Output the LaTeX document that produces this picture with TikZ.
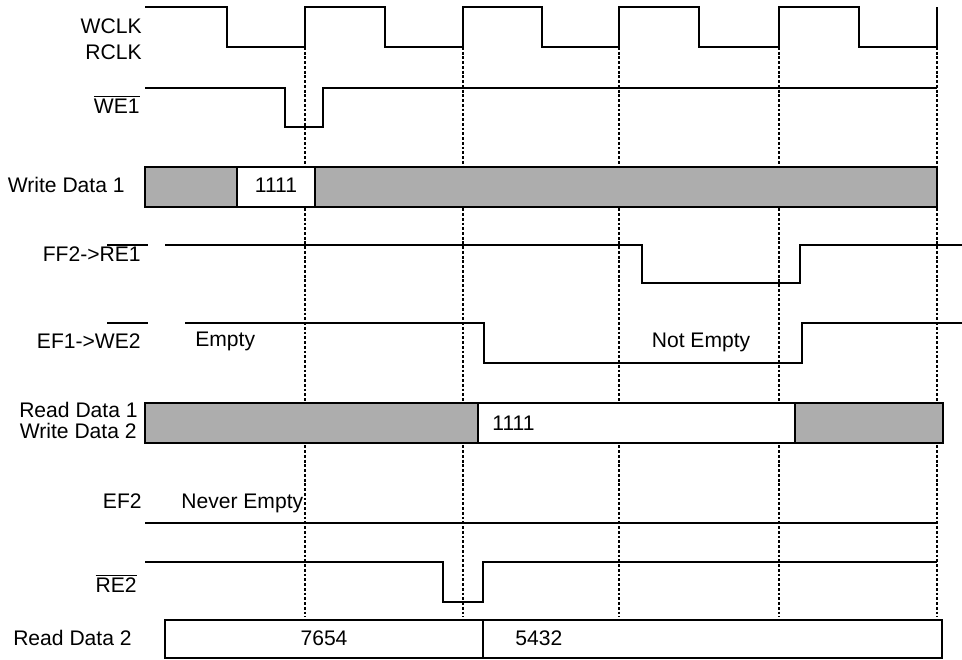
\documentclass[tikz,border=0pt]{standalone}
\usepackage{fontspec}
\setmainfont{Liberation Sans}
\usepackage{tikz}
\usetikzlibrary{positioning,calc}

\newcommand{\ovl}[1]{$\overline{\mbox{#1}}$}

\begin{document}
\begin{tikzpicture}[x=0.02cm, y=-0.02cm,
  wave/.style={line width=1.3pt},
  tick/.style={line width=0.8pt, dash pattern=on 1.6pt off 1.1pt},
  bus/.style={draw, line width=1.3pt, fill=white},
  shade/.style={draw, line width=1.3pt, fill=black!32},
  lbl/.style={font=\fontsize{12}{14}\selectfont, inner sep=0pt, text height=9pt, text depth=2.5pt},
  tight/.style={lbl, text height=8.6pt, text depth=0pt}]
  \useasboundingbox (0,0) rectangle (962,659);

  \foreach \x in {305,463,619,779,937}
    \draw[tick] (\x,47) -- (\x,617);

  \draw[wave] (145,7) \foreach \f/\r in {227/305,385/463,542/619,699/779,859/937}
    { -- (\f,7) -- (\f,47) -- (\r,47) -- (\r,7) };
  \node[lbl, anchor=east] (wclk) at (142,28) {WCLK};
  \node[lbl, anchor=east] (rclk) at (142,54) {RCLK};

  \draw[wave] (145,88) -- (285,88) -- (285,127) -- (323,127) -- (323,88) -- (937,88);
  \node[lbl, anchor=east] (we1) at (140,108) {\ovl{WE1}};

  \draw[shade] (145,167) rectangle (937,207);
  \draw[bus] (237,167) rectangle (315,207);
  \node[lbl] (wd1val) at (276,187) {1111};
  \node[lbl, anchor=east] (wd1) at (125,187) {Write Data 1};

  \draw[wave] (165,245) -- (642,245) -- (642,283) -- (800,283) -- (800,245) -- (962,245);
  \node[lbl, anchor=east] (ff2) at (141,256) {FF2->RE1};
  \draw[wave] (107,245) -- (148,245);

  \draw[wave] (185,323) -- (484,323) -- (484,363) -- (802,363) -- (802,323) -- (962,323);
  \node[lbl, anchor=east] (ef1) at (141,343) {EF1->WE2};
  \draw[wave] (107,323) -- (148,323);
  \node[lbl, anchor=west] (empty) at (195,341) {Empty};
  \node[lbl] (notempty) at (701,342) {Not Empty};

  \draw[shade] (145,403) rectangle (943,443);
  \draw[bus] (478,403) rectangle (795,443);
  \node[lbl, anchor=west] (rd1val) at (492,425) {1111};
  \node[tight, anchor=east] (rd1) at (138,410) {Read Data 1};
  \node[tight, anchor=east] (wd2) at (137,431) {Write Data 2};

  \draw[wave] (145,523) -- (937,523);
  \node[lbl, anchor=east] (ef2) at (142,503) {EF2};
  \node[lbl, anchor=west] (never) at (181,503) {Never Empty};

  \draw[wave] (145,562) -- (443,562) -- (443,602) -- (483,602) -- (483,562) -- (937,562);
  \node[lbl, anchor=east] (re2) at (137,587) {\ovl{RE2}};

  \draw[bus] (165,620) rectangle (483,658);
  \draw[bus] (483,620) rectangle (942,658);
  \node[lbl] (rd2old) at (324,640) {7654};
  \node[lbl, anchor=west] (rd2new) at (515,640) {5432};
  \node[lbl, anchor=east] (rd2) at (132,640) {Read Data 2};
\end{tikzpicture}
\end{document}
